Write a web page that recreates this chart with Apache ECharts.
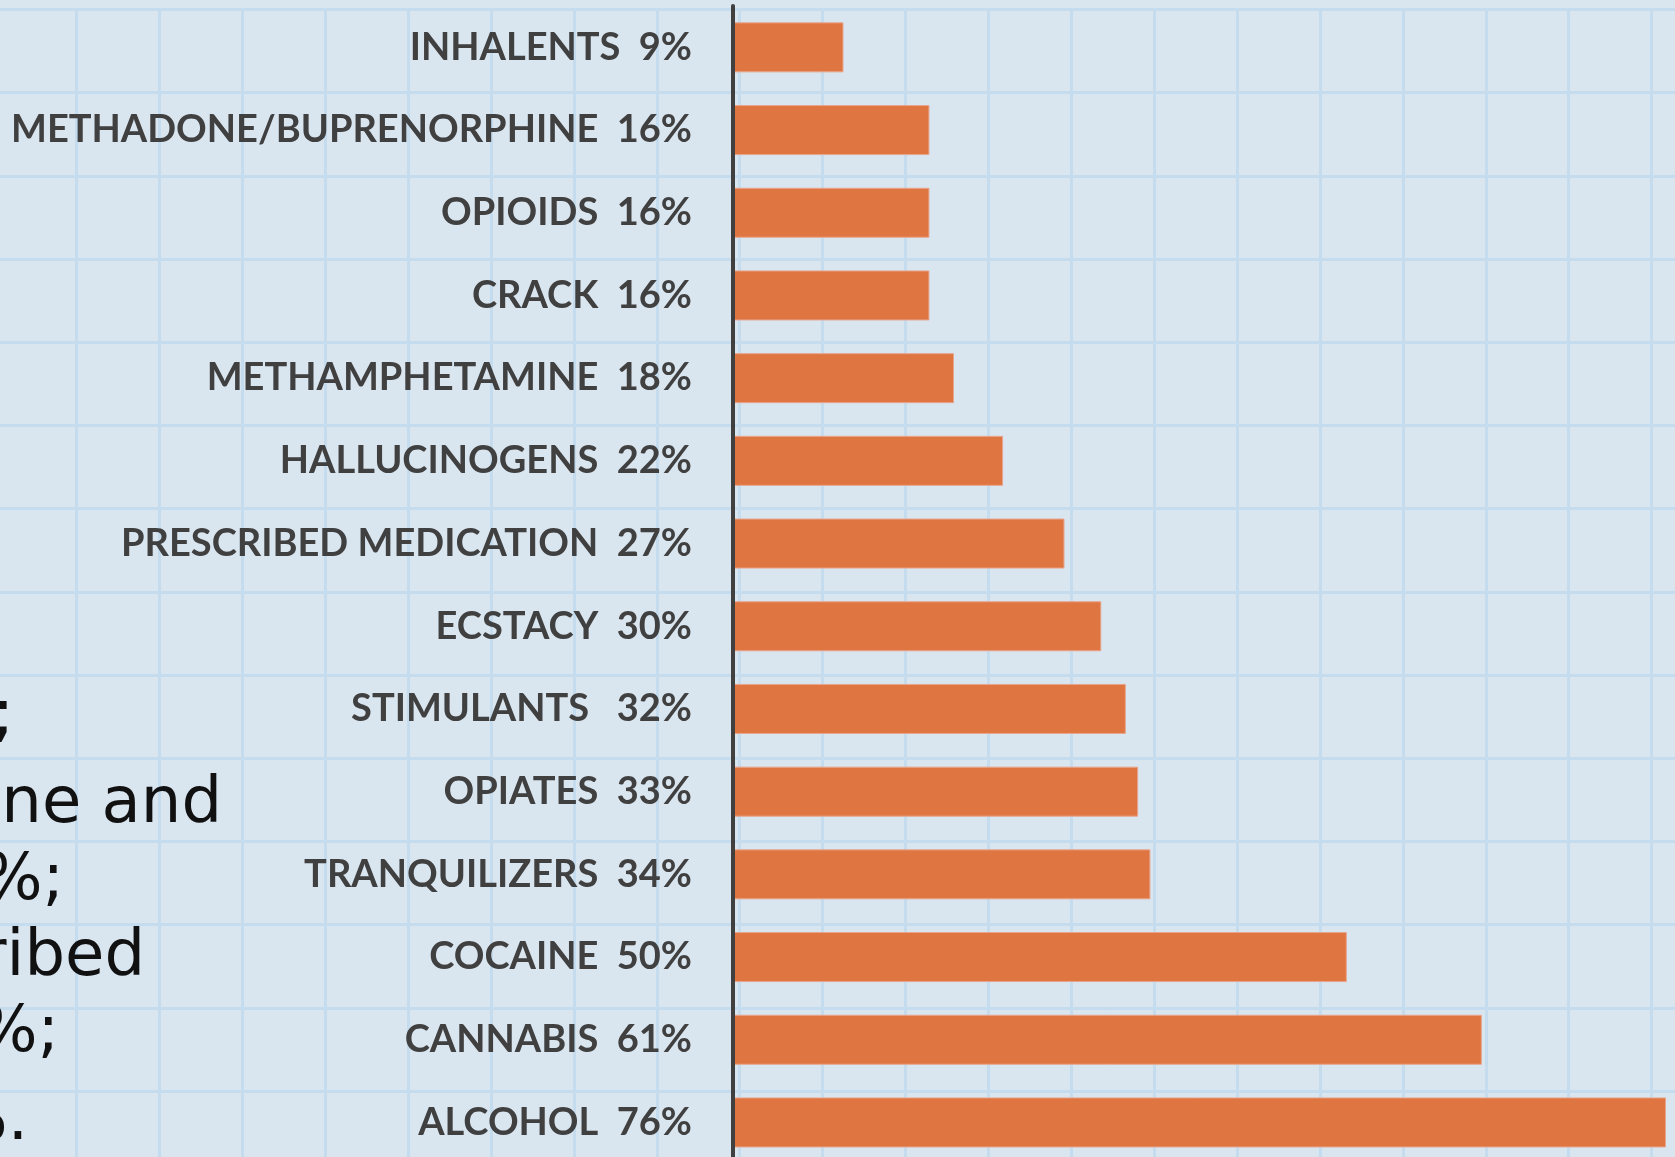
<!DOCTYPE html>
<html>
<head>
<meta charset="utf-8">
<script src="https://cdn.jsdelivr.net/npm/echarts@6/dist/echarts.min.js"></script>
<style>
  html, body { margin: 0; padding: 0; background: #d9e5ef; }
  #chart { width: 1675px; height: 1157px; }
</style>
</head>
<body>
<div id="chart"></div>
<script>
// categories, top to bottom
const categories = [
  'INHALENTS', 'METHADONE/BUPRENORPHINE', 'OPIOIDS', 'CRACK', 'METHAMPHETAMINE',
  'HALLUCINOGENS', 'PRESCRIBED MEDICATION', 'ECSTACY', 'STIMULANTS ', 'OPIATES',
  'TRANQUILIZERS', 'COCAINE', 'CANNABIS', 'ALCOHOL'
]
const values = [9, 16, 16, 16, 18, 22, 27, 30, 32, 33, 34, 50, 61, 76]

// cut-off text fragments from the slide's left text box
const sideText = [';', 'ne and', '7%;', 'ribed', '7%;', '%.']

const chart = echarts.init(document.getElementById('chart'))

const sideX = [14, 222, 64, 145, 59, 28]
const sideY = [686, 773, 850, 926, 1002, 1090]

const option = {
  backgroundColor: '#d9e5ef',
  animation: false,
  graphic: sideText.map((t, i) => ({
    type: 'text',
    x: sideX[i],
    y: sideY[i],
    z: 1,
    style: {
      text: t,
      fill: '#111',
      font: '64px "DejaVu Sans"',
      align: 'right',
      verticalAlign: 'alphabetic',
    },
  })),
  grid: [
    // main chart
    {left: 733, top: 6, width: 982.1, height: 1157.8, outerBoundsMode: 'none'},
    // graph-paper background
    {left: -6.4, top: 9.5, width: 21 * 82.9, height: 14 * 83.2, outerBoundsMode: 'none', z: 0},
  ],
  xAxis: [
    {
      type: 'value',
      gridIndex: 0,
      min: 0,
      max: 80,
      show: false,
    },
    {
      type: 'value',
      gridIndex: 1,
      min: 0,
      max: 21,
      interval: 1,
      axisLine: {show: false},
      axisTick: {show: false},
      axisLabel: {show: false},
      splitLine: {show: true, lineStyle: {color: '#c4dcee', width: 3}},
    },
  ],
  yAxis: [
    {
      type: 'category',
      gridIndex: 0,
      data: categories,
      inverse: true,
      offset: 2,
      axisLine: {show: true, lineStyle: {color: '#404040', width: 4}},
      axisTick: {show: false},
      axisLabel: {
        margin: 39,
        color: '#404040',
        fontFamily: 'Lato',
        fontWeight: 'bold',
        fontSize: 38,
        formatter: (name, idx) => name + '  ' + values[idx] + '%',
      },
      z: 5,
    },
    {
      type: 'value',
      gridIndex: 1,
      min: 0,
      max: 14,
      interval: 1,
      axisLine: {show: false},
      axisTick: {show: false},
      axisLabel: {show: false},
      splitLine: {show: true, lineStyle: {color: '#c4dcee', width: 3}},
    },
  ],
  series: [
    {
      type: 'bar',
      xAxisIndex: 0,
      yAxisIndex: 0,
      data: values,
      barWidth: 50,
      itemStyle: {
        color: '#df7540',
        borderColor: '#e9a58c',
        borderWidth: 1,
      },
      z: 3,
    },
  ],
}

chart.setOption(option)
</script>
</body>
</html>
